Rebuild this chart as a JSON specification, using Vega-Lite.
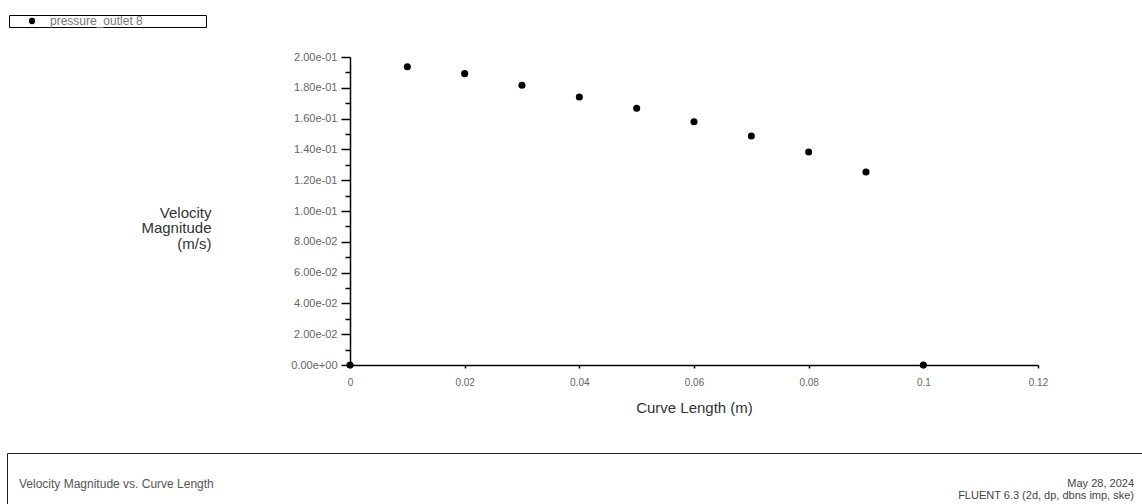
{
  "$schema": "https://vega.github.io/schema/vega-lite/v6.json",
  "padding": {"left": 6, "top": 14, "right": 0, "bottom": 0},
  "background": "white",
  "config": {"font": "Liberation Sans", "view": {"stroke": null}},
  "spacing": 37,
  "resolve": {"legend": {"color": "independent"}},
  "vconcat": [
    {
      "spacing": 0,
      "resolve": {"legend": {"color": "independent"}},
      "hconcat": [
        {
          "width": 1,
          "height": 308,
          "data": {"values": []},
          "mark": {"type": "point"}
        },
        {
          "width": 688,
          "height": 308,
          "data": {"values": [
            {"x": 0, "v": 0, "series": "pressure_outlet 8"},
            {"x": 0.01, "v": 0.1937, "series": "pressure_outlet 8"},
            {"x": 0.02, "v": 0.1892, "series": "pressure_outlet 8"},
            {"x": 0.03, "v": 0.1816, "series": "pressure_outlet 8"},
            {"x": 0.04, "v": 0.1740, "series": "pressure_outlet 8"},
            {"x": 0.05, "v": 0.1667, "series": "pressure_outlet 8"},
            {"x": 0.06, "v": 0.1580, "series": "pressure_outlet 8"},
            {"x": 0.07, "v": 0.1487, "series": "pressure_outlet 8"},
            {"x": 0.08, "v": 0.1383, "series": "pressure_outlet 8"},
            {"x": 0.09, "v": 0.1253, "series": "pressure_outlet 8"},
            {"x": 0.1, "v": 0, "series": "pressure_outlet 8"}
          ]},
          "mark": {"type": "point", "filled": true, "size": 50, "opacity": 1, "clip": false},
          "encoding": {
            "x": {
              "field": "x", "type": "quantitative",
              "scale": {"domain": [0, 0.12], "nice": false, "zero": false},
              "axis": {
                "values": [0, 0.02, 0.04, 0.06, 0.08, 0.1, 0.12],
                "format": ".2~f",
                "labelFlush": false, "labelOverlap": false, "labelBound": false,
                "grid": false,
                "domainColor": "black", "domainWidth": 1.5,
                "tickColor": "black", "tickWidth": 1.5, "tickSize": 3,
                "labelPadding": 9, "labelFontSize": 10, "labelColor": "#666",
                "title": "Curve Length (m)", "titleFontSize": 15, "titleFontWeight": "normal",
                "titleColor": "#333", "titlePadding": 13
              }
            },
            "y": {
              "field": "v", "type": "quantitative",
              "scale": {"domain": [0, 0.2], "nice": false},
              "axis": {
                "values": [0, 0.01, 0.02, 0.03, 0.04, 0.05, 0.06, 0.07, 0.08, 0.09, 0.1, 0.11, 0.12, 0.13, 0.14, 0.15, 0.16, 0.17, 0.18, 0.19, 0.2],
                "labelExpr": "round(datum.value*100)%2==0 ? replace(replace(format(datum.value,'.2e'),'e-','e-0'),'e+','e+0') : ''",
                "tickSize": {"condition": {"test": "round(datum.value*100)%2==0", "value": 9}, "value": 5},
                "labelFlush": false, "labelOverlap": false, "labelBound": false,
                "grid": false,
                "domainColor": "black", "domainWidth": 1.5,
                "tickColor": "black", "tickWidth": 1.5,
                "labelPadding": 4, "labelFontSize": 11, "labelColor": "#666",
                "title": ["Velocity", "Magnitude", "(m/s)"],
                "titleAngle": 0, "titleAlign": "right", "titleBaseline": "top",
                "titleX": -139, "titleY": 148, "titleFontSize": 15, "titleFontWeight": "normal",
                "titleColor": "#333", "titleLineHeight": 15.5
              }
            },
            "color": {
              "field": "series", "type": "nominal",
              "scale": {"range": ["black"]},
              "legend": {
                "orient": "none", "legendX": -341, "legendY": -42,
                "title": null,
                "strokeColor": "black", "fillColor": "white",
                "padding": 0,
                "symbolType": "circle", "symbolSize": 40, "symbolFillColor": "black", "symbolStrokeWidth": 0,
                "symbolOffset": 17, "labelOffset": 12,
                "labelFontSize": 12, "labelColor": "#777", "labelLimit": 400,
                "labelExpr": "datum.label + '\u2800\u2800\u2800\u2800\u2800\u2800\u2800'"
              }
            }
          }
        }
      ]
    },
    {
      "width": 1140,
      "height": 60,
      "view": {"stroke": "#222", "fill": "white"},
      "layer": [
        {
          "data": {"values": [{"label": "Velocity Magnitude vs. Curve Length"}]},
          "mark": {"type": "text", "align": "left", "baseline": "middle", "fontSize": 12, "color": "#555", "dx": 12},
          "encoding": {
            "x": {"datum": 0, "type": "quantitative", "scale": {"domain": [0, 1]}, "axis": null},
            "y": {"datum": 0.48, "type": "quantitative", "scale": {"domain": [0, 1]}, "axis": null},
            "text": {"field": "label"}
          }
        },
        {
          "data": {"values": [{"label": "May 28, 2024\nFLUENT 6.3 (2d, dp, dbns imp, ske)"}]},
          "mark": {"type": "text", "align": "right", "baseline": "middle", "fontSize": 11, "color": "#444", "dx": -13, "lineBreak": "\n", "lineHeight": 12},
          "encoding": {
            "x": {"datum": 1, "type": "quantitative", "scale": {"domain": [0, 1]}, "axis": null},
            "y": {"datum": 0.49, "type": "quantitative", "scale": {"domain": [0, 1]}, "axis": null},
            "text": {"field": "label"}
          }
        }
      ]
    }
  ]
}
